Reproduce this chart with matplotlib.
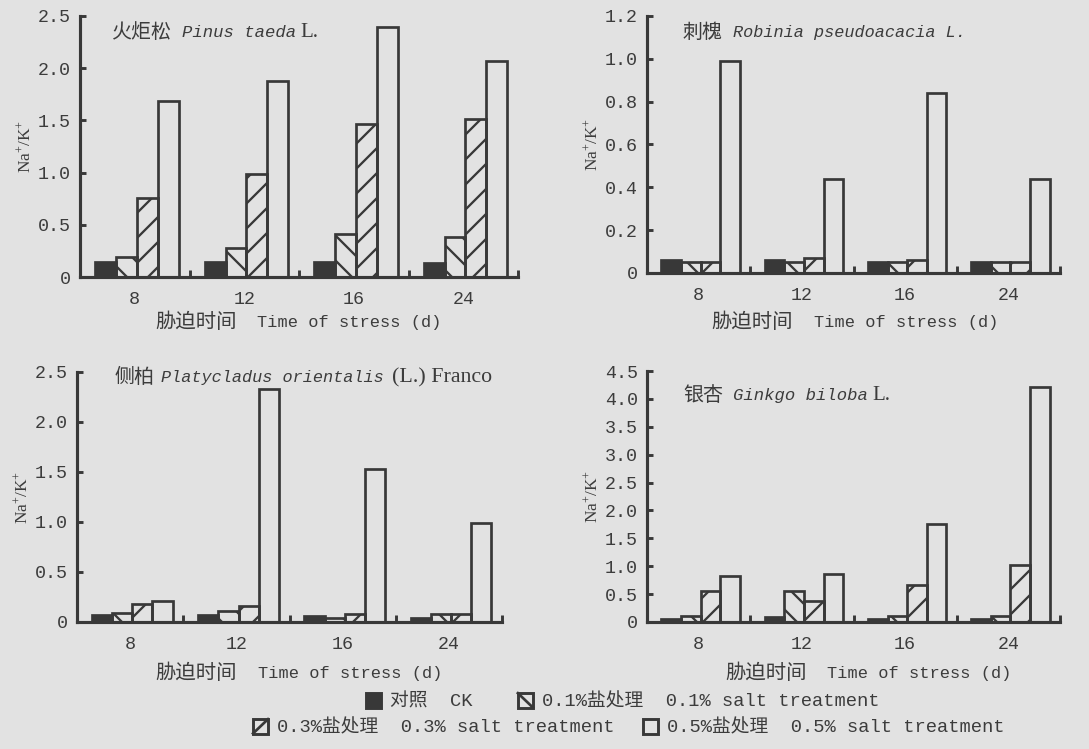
import matplotlib
matplotlib.use("Agg")
import matplotlib.pyplot as plt
import numpy as np
from matplotlib.font_manager import FontProperties
from matplotlib.legend_handler import HandlerBase
from matplotlib.patches import Rectangle
from matplotlib.lines import Line2D

# ---------------- data ----------------
groups = ['8', '12', '16', '24']
series_labels = ['对照  CK', '0.1%盐处理  0.1% salt treatment',
                 '0.3%盐处理  0.3% salt treatment', '0.5%盐处理  0.5% salt treatment']

pinus_ck = [0.14, 0.14, 0.14, 0.13]
pinus_s01 = [0.19, 0.28, 0.41, 0.38]
pinus_s03 = [0.76, 0.99, 1.47, 1.51]
pinus_s05 = [1.69, 1.88, 2.39, 2.07]

robinia_ck = [0.06, 0.06, 0.05, 0.05]
robinia_s01 = [0.05, 0.05, 0.05, 0.05]
robinia_s03 = [0.05, 0.07, 0.06, 0.05]
robinia_s05 = [0.99, 0.44, 0.84, 0.44]

platy_ck = [0.07, 0.07, 0.06, 0.04]
platy_s01 = [0.09, 0.11, 0.04, 0.08]
platy_s03 = [0.18, 0.16, 0.08, 0.08]
platy_s05 = [0.21, 2.33, 1.53, 0.99]

ginkgo_ck = [0.06, 0.09, 0.06, 0.06]
ginkgo_s01 = [0.10, 0.56, 0.11, 0.10]
ginkgo_s03 = [0.55, 0.38, 0.67, 1.03]
ginkgo_s05 = [0.82, 0.86, 1.75, 4.22]

pinus_yticks = [0, 0.5, 1.0, 1.5, 2.0, 2.5]
robinia_yticks = [0, 0.2, 0.4, 0.6, 0.8, 1.0, 1.2]
platy_yticks = [0, 0.5, 1.0, 1.5, 2.0, 2.5]
ginkgo_yticks = [0, 0.5, 1.0, 1.5, 2.0, 2.5, 3.0, 3.5, 4.0, 4.5]

# ---------------- style ----------------
DPI = 150
W, H = 1089, 749
BG = '#e2e2e2'
INK = '#383838'
TXT = '#3c3c3c'
CJK = 'Noto Sans CJK SC'
MONO = 'Liberation Mono'
SERIF = 'Liberation Serif'

plt.rcParams['font.family'] = [MONO, CJK, 'DejaVu Sans']
plt.rcParams['hatch.linewidth'] = 1.1
plt.rcParams['hatch.color'] = INK
plt.rcParams['mathtext.fontset'] = 'custom'
plt.rcParams['mathtext.rm'] = SERIF
plt.rcParams['mathtext.it'] = SERIF + ':italic'

fig = plt.figure(figsize=(W / DPI, H / DPI), dpi=DPI, facecolor=BG)


def px_axes(l, r, t, b):
    return fig.add_axes([l / W, 1 - b / H, (r - l) / W, (b - t) / H])


fills = [INK, 'none', 'none', 'none']
hatches = [None, '\\\\', '//', None]
diags = [None, '\\', '/', None]


class SquareHandler(HandlerBase):
    def __init__(self, face, diag):
        super().__init__()
        self.face = face
        self.diag = diag

    def create_artists(self, legend, orig_handle, xdescent, ydescent, width,
                       height, fontsize, trans):
        x0, y0 = -xdescent, -ydescent
        r = Rectangle((x0, y0), width, height, facecolor=self.face,
                      edgecolor=INK, linewidth=1.4, transform=trans)
        arts = [r]
        if self.diag == '\\':
            arts.append(Line2D([x0, x0 + width], [y0 + height, y0], color=INK,
                               linewidth=1.3, transform=trans))
        elif self.diag == '/':
            arts.append(Line2D([x0, x0 + width], [y0, y0 + height], color=INK,
                               linewidth=1.3, transform=trans))
        return arts


def chain(ax, x, y, pieces):
    fam, sz, sty, s = pieces[0]
    prev = ax.text(x, y, s, transform=ax.transAxes, ha='left', va='center',
                   family=fam, size=sz, style=sty, color=TXT)
    for fam, sz, sty, s, gap in pieces[1:]:
        prev = ax.annotate(s, xy=(1, 0.5), xycoords=prev, xytext=(gap, 0),
                           textcoords='offset points', ha='left', va='center',
                           family=fam, size=sz, style=sty, color=TXT)


def panel(box, data, yticks, title_pieces, title_xy, xlab_xy):
    ax = px_axes(*box)
    ax.set_facecolor('none')
    x = np.arange(len(groups))
    w = 0.19
    conts = []
    for i, vals in enumerate(data):
        c = ax.bar(x + (i - 1.5) * w + 0.02, vals, w, facecolor=fills[i],
                   edgecolor=INK, linewidth=1.3, hatch=hatches[i],
                   label=series_labels[i], zorder=2)
        conts.append(c)
    ax.set_xlim(-0.5, 3.5)
    ax.set_ylim(0, yticks[-1])
    ax.set_yticks(yticks)
    ax.set_yticklabels(['0' if v == 0 else f'{v:.1f}' for v in yticks])
    ax.set_xticks(x)
    ax.set_xticklabels(groups)
    ax.set_xticks(x + 0.5, minor=True)
    for s in ['top', 'right']:
        ax.spines[s].set_visible(False)
    for s in ['left', 'bottom']:
        ax.spines[s].set_linewidth(1.5)
        ax.spines[s].set_color(INK)
    ax.tick_params(axis='x', which='major', length=0, pad=6.5, labelsize=8.8, colors=TXT)
    ax.tick_params(axis='x', which='minor', direction='in', length=3.5, width=1.4, color=INK)
    ax.tick_params(axis='y', direction='in', length=3, width=1.4, color=INK,
                   pad=4.5, labelsize=8.8, labelcolor=TXT)
    ax.set_ylabel('Na$^{+}$/K$^{+}$', family=SERIF, size=8.3, color=TXT)
    ax.yaxis.set_label_coords(-46 / (box[1] - box[0]), 0.5)
    chain(ax, xlab_xy[0], xlab_xy[1],
          [(CJK, 9.8, 'normal', '胁迫时间'), (MONO, 8.2, 'normal', 'Time of stress (d)', 10)])
    chain(ax, title_xy[0], title_xy[1], title_pieces)
    return ax, conts


ax1, conts = panel((80, 518, 16, 277), [pinus_ck, pinus_s01, pinus_s03, pinus_s05],
                   pinus_yticks,
                   [(CJK, 9.6, 'normal', '火炬松'), (MONO, 8.3, 'italic', 'Pinus taeda', 5),
                    (SERIF, 10, 'normal', 'L.', 2)],
                   (0.073, 0.935), (0.171, -0.174))
ax2, _ = panel((647, 1060, 16, 273), [robinia_ck, robinia_s01, robinia_s03, robinia_s05],
               robinia_yticks,
               [(CJK, 9.6, 'normal', '刺槐'), (MONO, 8.1, 'italic', 'Robinia pseudoacacia L.', 5)],
               (0.087, 0.934), (0.157, -0.193))
ax3, _ = panel((77, 502, 372, 622), [platy_ck, platy_s01, platy_s03, platy_s05],
               platy_yticks,
               [(CJK, 9.6, 'normal', '侧柏'), (MONO, 8.1, 'italic', 'Platycladus orientalis', 3),
                (SERIF, 10.5, 'normal', '(L.) Franco', 4)],
               (0.089, 0.976), (0.184, -0.206))
ax4, _ = panel((647, 1060, 371, 622), [ginkgo_ck, ginkgo_s01, ginkgo_s03, ginkgo_s05],
               ginkgo_yticks,
               [(CJK, 9.6, 'normal', '银杏'), (MONO, 8.3, 'italic', 'Ginkgo biloba', 5),
                (SERIF, 10, 'normal', 'L.', 2)],
               (0.087, 0.904), (0.189, -0.205))

handler_map = {conts[i]: SquareHandler(fills[i], diags[i]) for i in range(4)}
prop = FontProperties(family=[MONO, CJK], size=9)
leg_kw = dict(frameon=False, prop=prop, handlelength=0.8, handleheight=0.8,
              handletextpad=0.5, borderpad=0, borderaxespad=0, labelcolor=TXT,
              loc='center left', ncol=2, handler_map=handler_map)
fig.legend([conts[0], conts[1]], [series_labels[0], series_labels[1]],
           bbox_to_anchor=(366 / W, 1 - 702 / H), columnspacing=2.4, **leg_kw)
fig.legend([conts[2], conts[3]], [series_labels[2], series_labels[3]],
           bbox_to_anchor=(253 / W, 1 - 728 / H), columnspacing=1.5, **leg_kw)

fig.savefig('out.png', dpi=DPI, facecolor=BG)
